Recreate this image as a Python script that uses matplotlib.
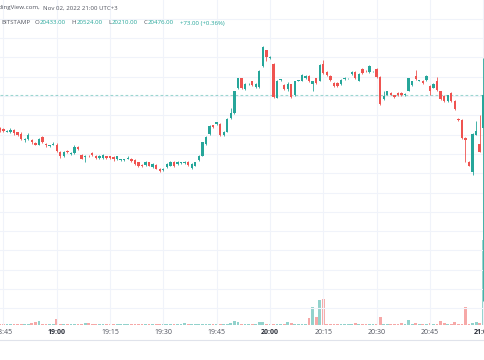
import numpy as np
import matplotlib.pyplot as plt

# 1-minute candles, 18:44 .. 21:00 (BITSTAMP BTC/USD)
opens = [20433, 20432, 20429, 20429, 20431, 20428, 20426, 20418, 20419, 20418,
         20414, 20412, 20422, 20413, 20410, 20412, 20412, 20403, 20397, 20404,
         20400, 20401, 20409, 20399, 20396, 20398, 20401, 20398, 20395, 20395,
         20397, 20397, 20396, 20393, 20392, 20392, 20394, 20394, 20392, 20389,
         20386, 20386, 20389, 20383, 20386, 20381, 20379, 20383, 20385, 20390,
         20387, 20388, 20388, 20390, 20382, 20385, 20392, 20398, 20413, 20426,
         20437, 20439, 20439, 20424, 20429, 20446, 20453, 20485, 20498, 20484,
         20490, 20494, 20487, 20487, 20514, 20534, 20524, 20517, 20473, 20496,
         20489, 20484, 20490, 20476, 20495, 20495, 20498, 20501, 20490, 20498,
         20495, 20516, 20506, 20501, 20492, 20492, 20490, 20497, 20498, 20503,
         20506, 20495, 20510, 20508, 20506, 20507, 20510, 20500, 20471, 20477,
         20479, 20476, 20479, 20479, 20476, 20482, 20489, 20501, 20495, 20495,
         20496, 20488, 20486, 20494, 20481, 20475, 20468, 20479, 20469, 20445,
         20444, 20421, 20390, 20377, 20425, 20413, 20433]
highs = [20435, 20434, 20431, 20433, 20432, 20429, 20428, 20421, 20427, 20419,
         20416, 20421, 20423, 20414, 20412, 20415, 20414, 20404, 20404, 20405,
         20402, 20411, 20410, 20400, 20399, 20399, 20402, 20399, 20399, 20400,
         20398, 20398, 20397, 20398, 20394, 20393, 20397, 20395, 20393, 20390,
         20387, 20391, 20390, 20388, 20387, 20382, 20382, 20388, 20391, 20391,
         20391, 20390, 20391, 20391, 20388, 20390, 20399, 20416, 20423, 20437,
         20438, 20442, 20440, 20430, 20446, 20459, 20482, 20499, 20499, 20492,
         20492, 20495, 20492, 20509, 20540, 20535, 20527, 20518, 20496, 20497,
         20490, 20493, 20491, 20495, 20496, 20503, 20502, 20502, 20495, 20499,
         20516, 20522, 20507, 20502, 20493, 20493, 20497, 20500, 20499, 20507,
         20507, 20505, 20511, 20509, 20515, 20508, 20511, 20501, 20481, 20482,
         20480, 20477, 20480, 20480, 20479, 20499, 20495, 20509, 20496, 20496,
         20502, 20489, 20492, 20500, 20482, 20476, 20477, 20480, 20470, 20446,
         20445, 20422, 20391, 20427, 20443, 20451, 20524]
lows = [20429, 20429, 20428, 20427, 20425, 20423, 20418, 20416, 20418, 20413,
        20411, 20411, 20414, 20409, 20409, 20411, 20402, 20395, 20396, 20401,
        20399, 20400, 20405, 20393, 20390, 20396, 20398, 20394, 20394, 20394,
        20394, 20394, 20391, 20392, 20391, 20391, 20393, 20390, 20386, 20383,
        20383, 20385, 20384, 20382, 20380, 20377, 20378, 20382, 20384, 20383,
        20386, 20387, 20387, 20385, 20381, 20384, 20391, 20397, 20412, 20425,
        20434, 20438, 20423, 20423, 20428, 20445, 20452, 20484, 20484, 20483,
        20489, 20488, 20486, 20486, 20513, 20520, 20523, 20473, 20472, 20495,
        20483, 20482, 20473, 20475, 20494, 20494, 20497, 20493, 20482, 20491,
        20494, 20504, 20501, 20495, 20487, 20487, 20489, 20496, 20497, 20502,
        20497, 20494, 20504, 20506, 20505, 20506, 20499, 20464, 20470, 20476,
        20476, 20473, 20475, 20475, 20475, 20481, 20488, 20496, 20494, 20491,
        20495, 20476, 20485, 20482, 20470, 20467, 20467, 20467, 20457, 20443,
        20420, 20390, 20384, 20373, 20424, 20402, 20210]
closes = [20431, 20430, 20430, 20431, 20427, 20425, 20419, 20419, 20425, 20415,
          20412, 20419, 20416, 20411, 20411, 20413, 20404, 20397, 20403, 20402,
          20401, 20409, 20407, 20394, 20398, 20397, 20399, 20395, 20398, 20399,
          20395, 20395, 20393, 20397, 20393, 20393, 20395, 20391, 20387, 20385,
          20384, 20390, 20385, 20387, 20381, 20378, 20381, 20387, 20390, 20384,
          20390, 20389, 20390, 20386, 20387, 20389, 20398, 20415, 20422, 20436,
          20435, 20441, 20424, 20429, 20445, 20453, 20481, 20498, 20485, 20491,
          20491, 20489, 20491, 20508, 20538, 20525, 20526, 20474, 20495, 20497,
          20484, 20490, 20474, 20494, 20496, 20502, 20501, 20494, 20494, 20492,
          20515, 20505, 20502, 20496, 20488, 20488, 20496, 20499, 20499, 20506,
          20498, 20504, 20505, 20507, 20514, 20508, 20500, 20465, 20475, 20481,
          20477, 20474, 20476, 20476, 20478, 20498, 20494, 20497, 20496, 20492,
          20501, 20481, 20491, 20483, 20471, 20468, 20476, 20468, 20458, 20444,
          20421, 20418, 20385, 20426, 20430, 20403, 20476]
volumes = [1.2, 1.0, 0.8, 1.0, 1.2, 1.5, 1.5, 0.8, 1.2, 2.5,
           3.0, 4.3, 1.5, 1.0, 0.6, 0.8, 5.7, 1.5, 1.2, 1.5,
           1.0, 1.5, 1.0, 1.0, 2.0, 2.0, 1.2, 1.0, 0.8, 1.0,
           1.0, 1.2, 1.0, 1.0, 0.6, 0.6, 0.8, 1.2, 1.5, 1.5,
           1.0, 1.2, 1.5, 1.0, 1.2, 1.0, 0.8, 1.0, 0.8, 1.0,
           0.8, 1.0, 2.3, 1.0, 0.8, 1.0, 1.2, 1.5, 1.2, 1.0,
           1.0, 1.2, 1.2, 1.0, 1.5, 2.0, 3.7, 2.7, 1.5, 1.0,
           1.0, 1.2, 1.0, 2.7, 2.7, 1.5, 1.0, 1.2, 1.0, 0.8,
           1.0, 3.0, 2.0, 1.0, 0.8, 1.0, 1.5, 6.7, 18.3, 8.3,
           25.0, 26.0, 1.5, 1.5, 1.2, 1.0, 1.0, 0.8, 1.0, 1.2,
           2.3, 1.0, 0.8, 1.0, 1.0, 0.8, 1.2, 8.3, 1.5, 1.5,
           1.5, 1.0, 1.5, 2.3, 1.5, 5.0, 1.5, 2.3, 1.0, 1.2,
           1.5, 2.3, 1.0, 1.5, 4.3, 2.0, 1.0, 1.5, 2.7, 1.5,
           1.5, 17.7, 1.5, 2.0, 3.0, 2.0, 85.0]

tick_pos = [1, 16, 31, 46, 61, 76, 91, 106, 121, 136]
tick_labels = ["18:45", "19:00", "19:15", "19:30", "19:45",
               "20:00", "20:15", "20:30", "20:45", "21:00"]
last_price = 20476

# legend row: (text, is_value, gap before in px)
legend_parts = [("BITSTAMP", False, 0), ("O", False, 3.5), ("20433.00", True, 0.6),
                ("H", False, 5.5), ("20524.00", True, 0.6),
                ("L", False, 5.5), ("20210.00", True, 0.6),
                ("C", False, 5.5), ("20476.00", True, 0.6),
                ("+73.00 (+0.36%)", True, 5.5)]

UP = "#26a69a"
DOWN = "#ef5350"
GRID = "#f0f3fa"
GREY = "#50535e"
FONT = ["Open Sans", "DejaVu Sans"]

W, H = 485, 360
pane_bottom = 325

fig = plt.figure(figsize=(W / 100, H / 100), dpi=100)
ax = fig.add_axes([0, 1 - pane_bottom / H, 1, pane_bottom / H])
axv = ax.twinx()
ax.set_zorder(2)
ax.patch.set_visible(False)
axv.set_zorder(1)

idx = np.arange(len(opens))
o = np.array(opens)
c = np.array(closes)
up = c >= o
colors = np.where(up, UP, DOWN)

# volume overlay
vcol = np.where(up, UP + "80", DOWN + "80")
axv.bar(idx, volumes, width=0.78, color=vcol, linewidth=0)
axv.set_ylim(0, 325)
axv.set_yticks([])

# candles
ax.vlines(idx, lows, highs, colors=colors, linewidth=0.6, zorder=3)
ax.bar(idx, np.maximum(np.abs(c - o), 0.9), bottom=np.minimum(o, c),
       width=0.66, color=colors, linewidth=0, zorder=4)
ax.axhline(last_price, color=UP, alpha=0.45, linewidth=0.8,
           linestyle=(0, (2.5, 2)), zorder=2)

ax.set_xlim(0.05, 136.5)
ax.set_ylim(20178.5, 20599.4)
ax.set_yticks(np.arange(20200, 20600, 25))
ax.set_xticks(tick_pos)
ax.set_xticklabels(tick_labels)
ax.grid(True, color=GRID, linewidth=0.8, zorder=0)
ax.tick_params(axis="y", length=0, labelleft=False, labelright=False)
ax.tick_params(axis="x", length=0, pad=2.8, labelsize=5, labelcolor="#50535e")
for lbl in ax.get_xticklabels():
    lbl.set_family(FONT)
    if lbl.get_text().endswith(":00"):
        lbl.set_fontweight("bold")
        lbl.set_color("#2a2e39")
for a in (ax, axv):
    for s in a.spines.values():
        s.set_visible(False)

# separator under the time scale
fig.add_artist(plt.Line2D([0, 1], [1 - 340 / H] * 2, color="#e0e3eb",
                          linewidth=0.8, transform=fig.transFigure))

FS = 4.4


def put(x, y, s, col, ha="left"):
    return fig.text(x / W, 1 - y / H, s, color=col, fontsize=FS, ha=ha,
                    va="center", family=FONT)


put(39.5, 8, "TradingView.com,", GREY, ha="right")
put(43, 8, "Nov 02, 2022 21:00 UTC+3", GREY)

renderer = fig.canvas.get_renderer()
x = 1.7
for text, is_value, gap in legend_parts:
    x += gap
    t = put(x, 23, text, UP if is_value else GREY)
    x += t.get_window_extent(renderer).width

fig.savefig("out.png", dpi=100, facecolor="white")
